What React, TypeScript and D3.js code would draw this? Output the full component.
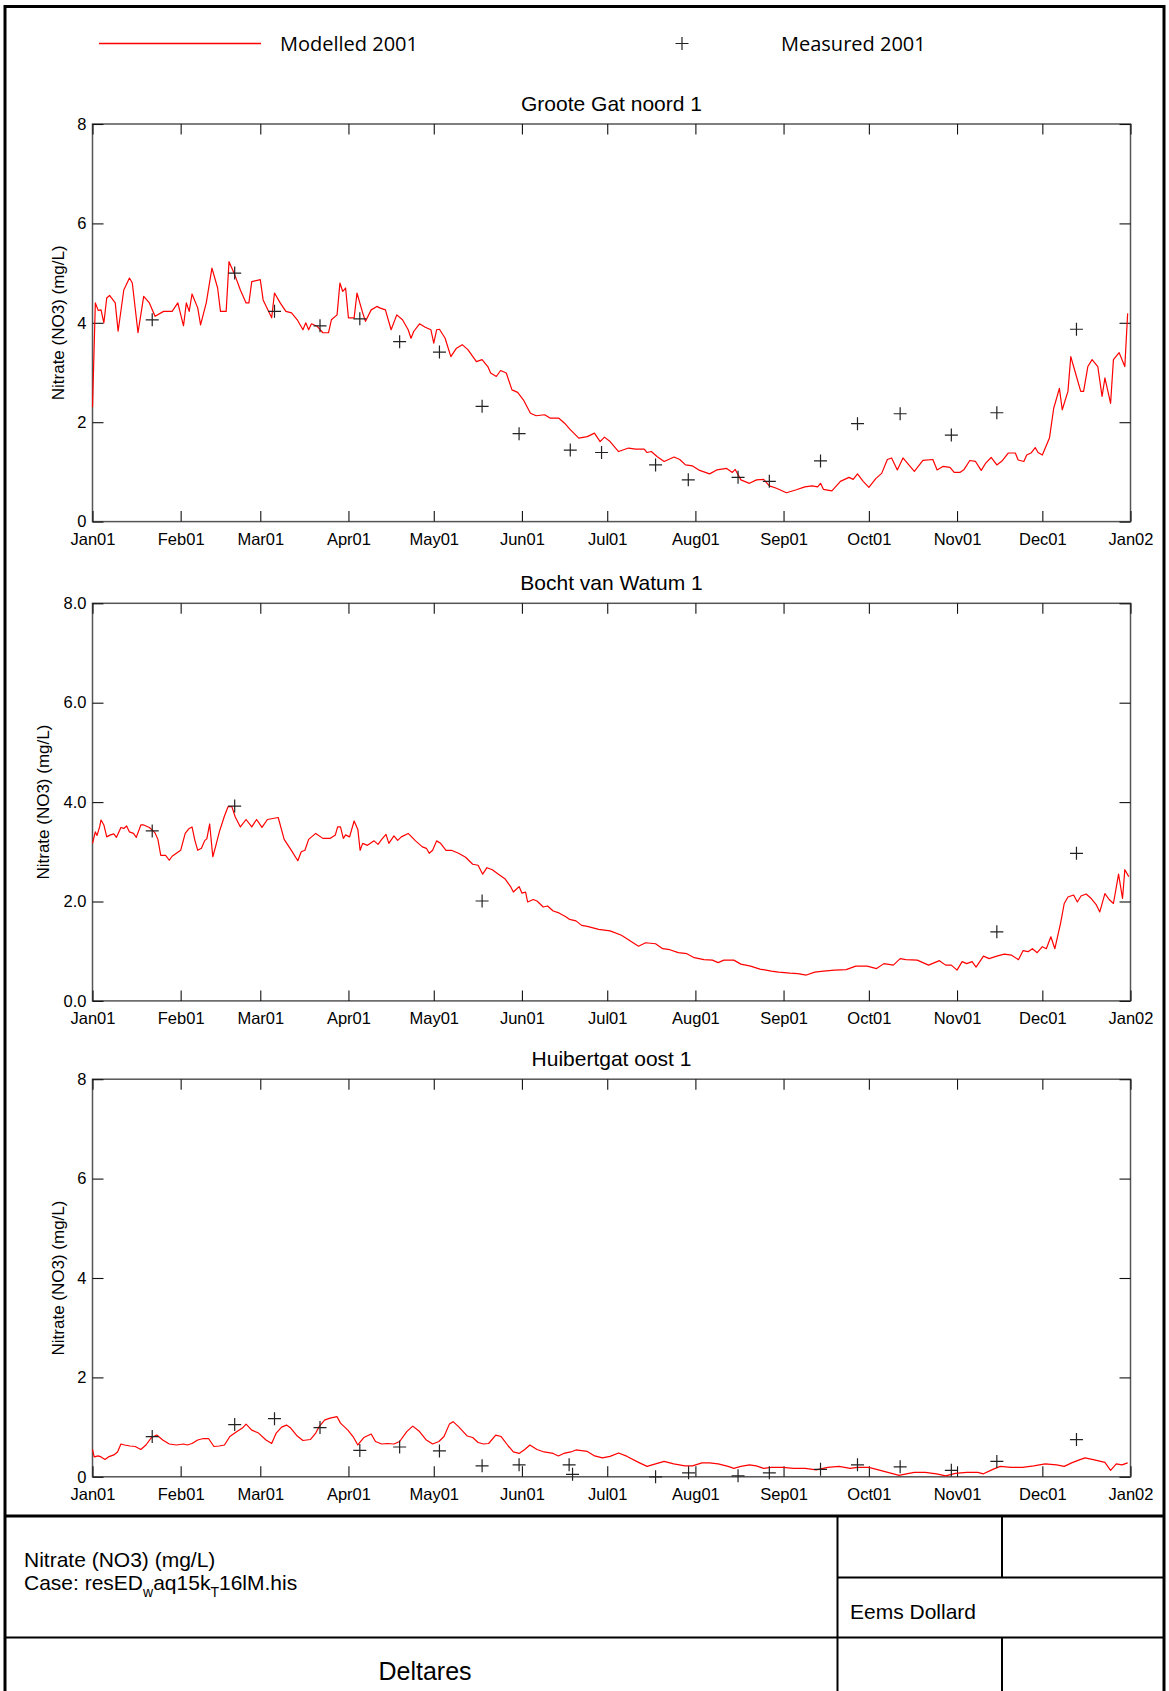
import React, { useEffect, useRef } from "react";
import * as d3 from "d3";

// tick labels on the time axis, one per month boundary
const monthLabels = ["Jan01", "Feb01", "Mar01", "Apr01", "May01", "Jun01", "Jul01", "Aug01", "Sep01", "Oct01", "Nov01", "Dec01", "Jan02"];

const stationNames = ["Groote Gat noord 1", "Bocht van Watum 1", "Huibertgat oost 1"];

// [day of year 2001, nitrate mg/L]
const grooteModelled = [
  [0, 2.3], [1, 4.4], [2, 4.25], [3, 4.26], [4, 4.0], [5, 4.5], [6, 4.55], [8, 4.4], [9, 3.83], [11, 4.66], [13, 4.9], [14, 4.8],
  [16, 3.8], [18, 4.53], [20, 4.4], [22, 4.13], [25, 4.23], [28, 4.23], [30, 4.4], [32, 3.94], [33, 4.4], [34, 4.23], [35, 4.58],
  [37, 4.3], [38, 3.96], [40, 4.4], [42, 5.1], [44, 4.7], [45, 4.23], [47, 4.23], [48, 5.23], [50, 4.97], [52, 4.66], [54, 4.4],
  [55, 4.4], [56, 4.83], [59, 4.87], [60, 4.46], [63, 4.1], [64, 4.6], [66, 4.4], [68, 4.23], [70, 4.2], [72, 4.06], [74, 3.86],
  [75, 4.0], [76, 3.86], [77, 3.98], [79, 3.93], [81, 3.8], [83, 3.8], [84, 4.06], [86, 4.16], [87, 4.8], [88, 4.63], [89, 4.7],
  [90, 4.1], [92, 4.1], [93, 4.6], [95, 4.2], [96, 4.03], [98, 4.26], [100, 4.33], [101, 4.3], [103, 4.26], [105, 3.86], [107, 4.16],
  [109, 4.06], [111, 3.86], [112, 3.69], [113, 3.83], [115, 3.98], [117, 3.91], [119, 3.86], [120, 3.59], [121, 3.86], [122, 3.87],
  [124, 3.69], [126, 3.32], [128, 3.49], [130, 3.56], [132, 3.46], [135, 3.22], [137, 3.26], [139, 3.12], [140, 2.99], [142, 2.92],
  [143.5, 3.04], [145.5, 2.99], [147.5, 2.65], [149.5, 2.6], [151.5, 2.45], [154, 2.18], [156, 2.13], [159, 2.15], [161, 2.08],
  [164, 2.08], [166, 1.98], [168, 1.85], [171, 1.68], [174, 1.71], [176.5, 1.78], [178.5, 1.61], [180, 1.7], [182, 1.61], [185, 1.41],
  [188.5, 1.48], [191, 1.46], [194, 1.46], [195, 1.39], [196.5, 1.41], [198.5, 1.31], [201, 1.21], [204.5, 1.3], [206.5, 1.25],
  [208.5, 1.14], [211, 1.12], [213.5, 1.03], [217, 0.96], [219.5, 1.04], [223, 1.07], [225, 0.99], [226, 1.05], [228, 0.84],
  [231, 0.77], [233.5, 0.84], [236, 0.85], [238, 0.72], [240.5, 0.67], [244, 0.58], [247.5, 0.64], [250.5, 0.7], [253, 0.72],
  [255, 0.7], [256, 0.77], [257, 0.65], [260, 0.62], [263, 0.81], [266, 0.89], [267.5, 0.85], [269, 0.96], [271, 0.81], [273, 0.69],
  [275.5, 0.87], [277.5, 0.97], [279.5, 1.25], [281, 1.28], [283, 1.04], [285, 1.28], [287.5, 1.11], [289, 1.01], [292, 1.23],
  [295.5, 1.25], [297, 1.04], [299, 1.11], [301.5, 1.09], [303, 0.99], [305, 0.99], [306.5, 1.05], [308.5, 1.23], [310.5, 1.21],
  [312.5, 1.03], [314, 1.17], [316, 1.29], [318, 1.14], [320, 1.23], [322, 1.38], [324.5, 1.38], [325.5, 1.24], [327.5, 1.21],
  [328.5, 1.34], [330, 1.38], [331.5, 1.49], [332.5, 1.39], [334, 1.34], [336.5, 1.68], [338, 2.28], [340, 2.68], [341, 2.25],
  [343, 2.62], [344, 3.32], [345.5, 3.02], [347.5, 2.62], [348.5, 2.62], [350, 3.12], [351.5, 3.26], [353.5, 3.12], [355, 2.52],
  [356, 2.89], [358, 2.38], [359, 3.26], [361, 3.4], [363, 3.12], [364, 4.19],
];
const grooteMeasured = [
  [21, 4.06], [50, 5.0], [64, 4.23], [80, 3.94], [94, 4.08], [108, 3.62], [122, 3.41], [137, 2.32], [150, 1.77], [168, 1.44],
  [179, 1.39], [198, 1.14], [209.5, 0.84], [227, 0.89], [238, 0.81], [256, 1.22], [269, 1.97], [284, 2.17], [302, 1.74],
  [318, 2.19], [346, 3.87],
];

const bochtModelled = [
  [0, 3.17], [1, 3.4], [1.6, 3.33], [2.5, 3.5], [3, 3.64], [4, 3.54], [5, 3.3], [6.3, 3.34], [7.5, 3.36], [8.4, 3.29], [10, 3.49],
  [11, 3.47], [12, 3.52], [13, 3.4], [14.4, 3.37], [15.4, 3.29], [17, 3.54], [18, 3.54], [20, 3.49], [22, 3.38], [23, 3.25],
  [24, 2.93], [25.7, 2.93], [27, 2.83], [28, 2.91], [31, 3.03], [32.6, 3.37], [34, 3.47], [35, 3.5], [36, 3.23], [37, 3.03],
  [38.3, 3.07], [39.5, 3.23], [40.2, 3.26], [41.2, 3.56], [42.3, 2.9], [43.3, 3.11], [44.6, 3.4], [46.4, 3.72], [47.7, 3.91],
  [49, 3.91], [50.2, 3.7], [52, 3.5], [54, 3.65], [56, 3.5], [57.7, 3.65], [59.6, 3.49], [61.5, 3.65], [63.4, 3.67], [65.3, 3.69],
  [67.4, 3.25], [69.7, 3.05], [72.2, 2.82], [73.4, 3.0], [74.7, 3.03], [76, 3.25], [78.5, 3.37], [81, 3.27], [83.5, 3.27],
  [85.4, 3.34], [86.2, 3.5], [87.2, 3.5], [88.2, 3.27], [89, 3.34], [90.4, 3.3], [92, 3.62], [93.3, 3.45], [94.1, 3.03], [95, 3.17],
  [96.7, 3.13], [99, 3.22], [100.4, 3.15], [101.7, 3.25], [103.2, 3.35], [104.2, 3.17], [106, 3.32], [107.3, 3.23], [108.6, 3.3],
  [111, 3.37], [113.6, 3.22], [116, 3.1], [117.4, 3.07], [118.4, 2.97], [119.6, 3.03], [121, 3.22], [122.4, 3.17], [124.3, 3.03],
  [126.2, 3.03], [128.7, 2.97], [131.2, 2.89], [133.7, 2.75], [135.6, 2.73], [137.2, 2.55], [138.7, 2.68], [140.6, 2.64],
  [142.5, 2.56], [145, 2.46], [147, 2.3], [148, 2.19], [150, 2.3], [151, 2.17], [152.3, 2.19], [153, 1.99], [155, 2.04],
  [156.3, 2.01], [158.5, 1.89], [160, 1.91], [162, 1.81], [164, 1.77], [166.3, 1.7], [167.8, 1.64], [170, 1.61], [172, 1.52],
  [174, 1.5], [178, 1.44], [182, 1.41], [186, 1.32], [189, 1.21], [192, 1.1], [194.5, 1.17], [198, 1.15], [200.5, 1.05], [203, 1.03],
  [206, 0.97], [209, 0.95], [211.6, 0.87], [215, 0.83], [218, 0.82], [220, 0.77], [222, 0.82], [225.5, 0.82], [228, 0.74],
  [231.4, 0.7], [234.7, 0.64], [238.7, 0.6], [241.3, 0.58], [245.3, 0.56], [248, 0.55], [251, 0.52], [254, 0.58], [257, 0.6],
  [261, 0.62], [265, 0.63], [268.4, 0.7], [272.4, 0.7], [275.7, 0.65], [278.3, 0.75], [281.6, 0.72], [284, 0.85], [286, 0.83],
  [290, 0.82], [294, 0.72], [297.8, 0.81], [300, 0.72], [302, 0.72], [304, 0.62], [305.8, 0.79], [307.4, 0.75], [309.3, 0.79],
  [310.7, 0.68], [313.3, 0.9], [315.3, 0.85], [318, 0.9], [320.6, 0.94], [323.2, 0.92], [325.6, 0.83], [327.2, 1.01], [329, 0.99],
  [330.5, 1.05], [332.2, 0.97], [334, 1.09], [335.4, 1.05], [337, 1.29], [338.4, 1.05], [340.4, 1.56], [341.7, 1.96], [343, 2.09],
  [345, 2.13], [346.3, 1.99], [347.6, 2.11], [349.4, 2.15], [351.2, 2.06], [353, 1.93], [354.2, 1.79], [356, 2.16], [357.5, 2.04],
  [359, 1.96], [360.8, 2.55], [362.2, 2.06], [363, 2.64], [364.4, 2.5],
];
const bochtMeasured = [[21, 3.42], [50, 3.92], [137, 2.01], [318, 1.39], [346, 2.97]];

const huibertModelled = [
  [0, 0.55], [0.6, 0.4], [2, 0.42], [3, 0.4], [4.4, 0.35], [5.6, 0.4], [7.5, 0.44], [8.8, 0.5], [10, 0.66], [11.3, 0.64],
  [13.2, 0.62], [15, 0.61], [17, 0.55], [18.8, 0.64], [20.7, 0.79], [22.6, 0.84], [24.7, 0.74], [27, 0.66], [29.5, 0.64],
  [32, 0.66], [33.3, 0.64], [35, 0.67], [37, 0.74], [39, 0.77], [40.8, 0.77], [42.7, 0.61], [44.6, 0.62], [46.4, 0.64],
  [48.3, 0.81], [50.8, 0.91], [52.7, 0.98], [54, 1.06], [56, 0.94], [58.4, 0.88], [61, 0.74], [63, 0.67], [64.6, 0.88], [66.5, 1.0],
  [68.2, 1.04], [69.7, 0.98], [72, 0.82], [74, 0.73], [76.6, 0.75], [78.5, 0.88], [79.7, 1.01], [81.6, 1.14], [83.5, 1.18],
  [86, 1.21], [87.2, 1.08], [89.8, 0.94], [91.6, 0.81], [93.3, 0.64], [95.4, 0.79], [98, 0.86], [99.5, 0.71], [101.7, 0.66],
  [103.6, 0.67], [106, 0.66], [108, 0.71], [110.5, 0.91], [112.6, 1.02], [115, 0.91], [117.4, 0.74], [119.6, 0.66], [121.8, 0.71],
  [123.6, 0.81], [125.5, 1.06], [126.8, 1.11], [128.7, 1.01], [131.8, 0.82], [133.7, 0.79], [135.6, 0.69], [137.5, 0.66],
  [139.3, 0.67], [141.8, 0.84], [143.7, 0.81], [146.2, 0.62], [148, 0.5], [150, 0.47], [152, 0.55], [153.8, 0.64], [156.3, 0.55],
  [158.8, 0.5], [162, 0.47], [163.8, 0.42], [165.7, 0.47], [168.2, 0.5], [170, 0.54], [174, 0.51], [176.6, 0.42], [179.3, 0.38],
  [182, 0.41], [185, 0.48], [188, 0.41], [192, 0.29], [195, 0.21], [198, 0.26], [201, 0.31], [204.4, 0.26], [208.3, 0.22],
  [211, 0.22], [214.3, 0.28], [217, 0.28], [220, 0.26], [223.5, 0.21], [225.5, 0.17], [228, 0.21], [231, 0.24], [233.4, 0.22],
  [236, 0.17], [238.7, 0.19], [242.7, 0.19], [246.6, 0.17], [250.6, 0.17], [254.5, 0.14], [258.5, 0.19], [262.5, 0.21],
  [266.4, 0.17], [269, 0.19], [273, 0.19], [277, 0.13], [281, 0.07], [283.6, 0.03], [286.2, 0.06], [289, 0.09], [292.8, 0.09],
  [296.8, 0.06], [300, 0.02], [303.4, 0.07], [307.4, 0.09], [311.3, 0.09], [313.3, 0.06], [316.6, 0.15], [319.2, 0.21], [323, 0.19],
  [327, 0.19], [331, 0.22], [335, 0.26], [339, 0.24], [341.7, 0.21], [344.3, 0.28], [347, 0.34], [349, 0.38], [352.3, 0.34],
  [356, 0.29], [358, 0.13], [360, 0.26], [362, 0.24], [364, 0.28],
];
const huibertMeasured = [
  [21, 0.81], [50, 1.05], [64, 1.17], [80, 0.99], [94, 0.53], [108, 0.6], [122, 0.52], [137, 0.22], [150, 0.24], [167.6, 0.24],
  [168.8, 0.05], [198, 0.0], [209.6, 0.08], [227, 0.02], [238, 0.08], [256, 0.15], [269, 0.24], [284, 0.2], [302, 0.13],
  [318, 0.31], [346, 0.75],
];

const yTicks = [0, 2, 4, 6, 8];
const yTitle = "Nitrate (NO3) (mg/L)";

const W = 1169;
const H = 1691;
const FONT = "'Liberation Sans', Arial, sans-serif";

const App = () => {
  const ref = useRef(null);

  useEffect(() => {
    const svg = d3.select(ref.current);
    svg.selectAll("*").remove();

    const start = new Date(Date.UTC(2001, 0, 1));
    const end = new Date(Date.UTC(2002, 0, 1));
    const dayToDate = (d) => new Date(start.getTime() + d * 864e5);
    const monthTicks = d3.utcMonth.range(start, d3.utcDay.offset(end, 1));

    const left = 92.5;
    const right = 1130.5;
    const plotH = 397.6;
    const tops = [124, 603.3, 1079.2];

    const x = d3.scaleUtc().domain([start, end]).range([left, right]);

    const panels = [
      { title: stationNames[0], model: grooteModelled, meas: grooteMeasured, fmt: d3.format("d"), labelX: 58 },
      { title: stationNames[1], model: bochtModelled, meas: bochtMeasured, fmt: d3.format(".1f"), labelX: 43 },
      { title: stationNames[2], model: huibertModelled, meas: huibertMeasured, fmt: d3.format("d"), labelX: 58 },
    ];

    const plus = "M-6.5,0H6.5M0,-6.5V6.5";

    // legend
    const legend = svg.append("g").attr("font-family", "'Open Sans', sans-serif").attr("font-size", 20);
    legend.append("line").attr("x1", 99).attr("x2", 261).attr("y1", 43.5).attr("y2", 43.5)
      .attr("stroke", "#ff0000").attr("stroke-width", 1.3);
    legend.append("text").attr("x", 280).attr("y", 50.5).text("Modelled 2001");
    legend.append("path").attr("d", plus).attr("transform", "translate(682,43.5)")
      .attr("stroke", "#222").attr("stroke-width", 1.2).attr("fill", "none");
    legend.append("text").attr("x", 781).attr("y", 50.5).text("Measured 2001");

    panels.forEach((p, i) => {
      const top = tops[i];
      const bottom = top + plotH;
      const y = d3.scaleLinear().domain([0, 8]).range([bottom, top]);
      const g = svg.append("g");

      g.append("text").attr("x", (left + right) / 2).attr("y", top - 13)
        .attr("text-anchor", "middle").attr("font-family", FONT).attr("font-size", 21)
        .text(p.title);

      g.append("rect").attr("x", left).attr("y", top).attr("width", right - left).attr("height", plotH)
        .attr("fill", "none").attr("stroke", "#555").attr("stroke-width", 1.5);

      const xb = g.append("g").attr("transform", `translate(0,${bottom})`)
        .call(d3.axisBottom(x).tickValues(monthTicks).tickFormat((d, k) => monthLabels[k])
          .tickSizeInner(-10.5).tickSizeOuter(0).tickPadding(11.8));
      const xt = g.append("g").attr("transform", `translate(0,${top})`)
        .call(d3.axisTop(x).tickValues(monthTicks).tickFormat(() => "").tickSizeInner(-10.5).tickSizeOuter(0));
      const yl = g.append("g").attr("transform", `translate(${left},0)`)
        .call(d3.axisLeft(y).tickValues(yTicks).tickFormat(p.fmt).tickSizeInner(-11).tickSizeOuter(0).tickPadding(6));
      const yr = g.append("g").attr("transform", `translate(${right},0)`)
        .call(d3.axisRight(y).tickValues(yTicks).tickFormat(() => "").tickSizeInner(-11).tickSizeOuter(0));

      [xb, xt, yl, yr].forEach((a) => {
        a.select(".domain").remove();
        a.attr("font-family", FONT).attr("font-size", 16.5);
        a.selectAll("line").attr("stroke", "#111").attr("stroke-width", 1.1);
        a.selectAll("text").attr("fill", "#000");
      });

      g.append("text")
        .attr("transform", `translate(${p.labelX},${(top + bottom) / 2}) rotate(-90)`)
        .attr("text-anchor", "middle").attr("dominant-baseline", "central")
        .attr("font-family", FONT).attr("font-size", 17).text(yTitle);

      const line = d3.line().x((d) => x(dayToDate(d[0]))).y((d) => y(d[1]));
      g.append("path").datum(p.model).attr("d", line)
        .attr("fill", "none").attr("stroke", "#ff0000").attr("stroke-width", 1.2).attr("stroke-linejoin", "round");

      g.selectAll(".meas").data(p.meas).join("path").attr("class", "meas")
        .attr("d", plus)
        .attr("transform", (d) => `translate(${x(dayToDate(d[0]))},${y(d[1])})`)
        .attr("stroke", "#222").attr("stroke-width", 1.2).attr("fill", "none");
    });

    // title block
    const tb = svg.append("g").attr("stroke", "#000").attr("fill", "none");
    tb.append("rect").attr("x", 5).attr("y", 6.5).attr("width", 1159).attr("height", H + 10)
      .attr("stroke-width", 3);
    tb.append("line").attr("x1", 5).attr("x2", 1164).attr("y1", 1516).attr("y2", 1516).attr("stroke-width", 3);
    tb.append("line").attr("x1", 5).attr("x2", 1164).attr("y1", 1637.5).attr("y2", 1637.5).attr("stroke-width", 2);
    tb.append("line").attr("x1", 837.5).attr("x2", 837.5).attr("y1", 1516).attr("y2", H).attr("stroke-width", 2);
    tb.append("line").attr("x1", 837.5).attr("x2", 1164).attr("y1", 1577.5).attr("y2", 1577.5).attr("stroke-width", 2);
    tb.append("line").attr("x1", 1002).attr("x2", 1002).attr("y1", 1516).attr("y2", 1577.5).attr("stroke-width", 2);
    tb.append("line").attr("x1", 1002).attr("x2", 1002).attr("y1", 1637.5).attr("y2", H).attr("stroke-width", 2);

    const tt = svg.append("g").attr("font-family", FONT).attr("fill", "#000");
    tt.append("text").attr("x", 24).attr("y", 1567).attr("font-size", 21).text("Nitrate (NO3) (mg/L)");
    const cs = tt.append("text").attr("x", 24).attr("y", 1590).attr("font-size", 21);
    cs.append("tspan").text("Case: resED");
    cs.append("tspan").attr("dy", 7).attr("font-size", 14).text("w");
    cs.append("tspan").attr("dy", -7).text("aq15k");
    cs.append("tspan").attr("dy", 7).attr("font-size", 14).text("T");
    cs.append("tspan").attr("dy", -7).text("16lM.his");
    tt.append("text").attr("x", 850).attr("y", 1619).attr("font-size", 21).text("Eems Dollard");
    tt.append("text").attr("x", 425).attr("y", 1680).attr("font-size", 25).attr("text-anchor", "middle").text("Deltares");
  }, []);

  return (
    <svg
      ref={ref}
      width={W}
      height={H}
      style={{ position: "absolute", left: 0, top: 0, background: "#fff", display: "block" }}
    />
  );
};

export default App;
